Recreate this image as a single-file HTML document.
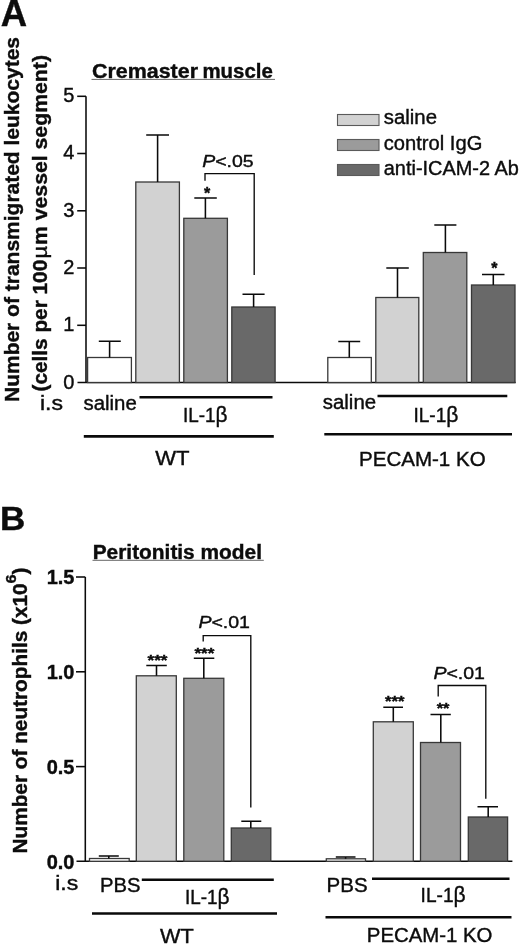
<!DOCTYPE html>
<html><head><meta charset="utf-8">
<style>
html,body{margin:0;padding:0;background:#fff;}
body{width:520px;height:944px;overflow:hidden;}
svg{display:block;will-change:transform;font-family:"Liberation Sans",sans-serif;}
.t{fill:#0c0c0c;stroke:#0c0c0c;stroke-width:0.4;}
.b{font-weight:bold;stroke-width:0.4;}
.ln{stroke:#0a0a0a;stroke-width:1.55;fill:none;}
.thick{stroke:#0a0a0a;stroke-width:2.6;fill:none;}
.bar{stroke:#383838;stroke-width:1.3;}
</style></head>
<body>
<svg width="520" height="944" viewBox="0 0 520 944">
<rect width="520" height="944" fill="#fff"/>

<!-- ===== PANEL A ===== -->
<text class="t b" x="0.8" y="25.5" font-size="36.5">A</text>
<text class="t b" font-size="21" transform="translate(18.8,402) rotate(-90)" textLength="365" lengthAdjust="spacingAndGlyphs">Number of transmigrated leukocytes</text>
<text class="t b" font-size="21" transform="translate(47.3,391.5) rotate(-90)" textLength="131.7" lengthAdjust="spacingAndGlyphs">(cells per 100</text>
<text class="t" font-size="21" transform="translate(47.3,258.6) rotate(-90)" textLength="12.6" lengthAdjust="spacingAndGlyphs">µ</text>
<text class="t b" font-size="21" transform="translate(47.3,245.1) rotate(-90)" textLength="190.1" lengthAdjust="spacingAndGlyphs">m vessel segment)</text>
<text class="t b" x="92" y="78" font-size="21" textLength="106" lengthAdjust="spacingAndGlyphs">Cremaster</text>
<text class="t b" x="202.4" y="78" font-size="21" textLength="70.4" lengthAdjust="spacingAndGlyphs">muscle</text>
<line x1="91.5" y1="79.4" x2="275" y2="79.4" stroke="#666" stroke-width="1"/>

<!-- axis -->
<line class="ln" x1="86" y1="96.2" x2="86" y2="383"/>
<line class="ln" x1="77.5" y1="382.5" x2="515.6" y2="382.5"/>
<g class="ln">
<line x1="77.2" y1="96.3" x2="86" y2="96.3"/>
<line x1="77.2" y1="153.5" x2="86" y2="153.5"/>
<line x1="77.2" y1="210.8" x2="86" y2="210.8"/>
<line x1="77.2" y1="268" x2="86" y2="268"/>
<line x1="77.2" y1="325.3" x2="86" y2="325.3"/>
</g>
<g class="t" font-size="20" text-anchor="end">
<text x="74.3" y="102.0">5</text>
<text x="74.3" y="159.3">4</text>
<text x="74.3" y="216.6">3</text>
<text x="74.3" y="273.9">2</text>
<text x="74.3" y="331.2">1</text>
<text x="74.3" y="388.7">0</text>
</g>

<!-- bars left -->
<g class="bar">
<rect x="87.6" y="357.5" width="43.8" height="25" fill="#fff"/>
<rect x="135.8" y="182" width="43.6" height="200.5" fill="#d2d2d2"/>
<rect x="183.8" y="218.3" width="43.6" height="164.2" fill="#9b9b9b"/>
<rect x="231.8" y="307" width="43.3" height="75.5" fill="#696969"/>
<rect x="327.8" y="357.5" width="43.5" height="25" fill="#fff"/>
<rect x="375.8" y="297.5" width="43" height="85" fill="#d2d2d2"/>
<rect x="423.3" y="252.5" width="43.5" height="130" fill="#9b9b9b"/>
<rect x="471.5" y="285" width="43.5" height="97.5" fill="#696969"/>
</g>
<!-- error bars -->
<g class="ln">
<path d="M109.6 357.5V341.3M98.8 341.3H120.8"/>
<path d="M157.6 182V135M146.2 135H169"/>
<path d="M205.4 218.3V198M194.3 198H216.8"/>
<path d="M253.6 307V294.3M242.5 294.3H264.6"/>
<path d="M349.3 357.5V341.5M338.3 341.5H360.2"/>
<path d="M397.5 297.5V268M386.3 268H408.8"/>
<path d="M445.4 252.5V225M434.3 225H456.4"/>
<path d="M493.3 285V274.5M482 274.5H504.5"/>
<path d="M205 180.7V173.6H254.2V275" stroke-width="1.35"/>
</g>
<text class="t" x="202.2" y="166.8" font-size="17.3" textLength="51.5" lengthAdjust="spacingAndGlyphs"><tspan font-style="italic">P</tspan>&lt;.05</text>
<text class="t b" x="207.2" y="198.8" font-size="16" text-anchor="middle">*</text>
<text class="t b" x="494.3" y="274.2" font-size="16" text-anchor="middle">*</text>

<!-- legend -->
<g style="stroke:#5a5a5a;stroke-width:1.1">
<rect x="337.5" y="114.5" width="41.5" height="11" fill="#d2d2d2"/>
<rect x="337.5" y="139.5" width="41.5" height="11" fill="#9b9b9b"/>
<rect x="337.5" y="164.5" width="41.5" height="11" fill="#696969"/>
</g>
<g class="t" font-size="20">
<text x="383.8" y="124" textLength="53.2" lengthAdjust="spacingAndGlyphs">saline</text>
<text x="383.8" y="150" textLength="98.5" lengthAdjust="spacingAndGlyphs">control IgG</text>
<text x="383.8" y="174.7" textLength="135" lengthAdjust="spacingAndGlyphs">anti-ICAM-2 Ab</text>
</g>

<!-- x labels A -->
<g class="t" font-size="20">
<text x="39.9" y="410.3" textLength="23" lengthAdjust="spacingAndGlyphs">i.s</text>
<text x="83.5" y="409.7" textLength="53.3" lengthAdjust="spacingAndGlyphs">saline</text>
<text x="183" y="422.3" textLength="44.5" lengthAdjust="spacingAndGlyphs">IL-1<tspan font-size="22">β</tspan></text>
<text x="155.3" y="465" textLength="34.3" lengthAdjust="spacingAndGlyphs">WT</text>
<text x="322.8" y="408.8" textLength="53.3" lengthAdjust="spacingAndGlyphs">saline</text>
<text x="413.4" y="422.2" textLength="45" lengthAdjust="spacingAndGlyphs">IL-1<tspan font-size="22">β</tspan></text>
<text x="359" y="465.5" textLength="126.6" lengthAdjust="spacingAndGlyphs">PECAM-1 KO</text>
</g>
<g class="thick">
<line x1="139.5" y1="397.2" x2="272.5" y2="397.2"/>
<line x1="83.8" y1="436.4" x2="273.8" y2="436.4"/>
<line x1="377.5" y1="396" x2="507.3" y2="396"/>
<line x1="324.3" y1="434.2" x2="512" y2="434.2"/>
</g>

<!-- ===== PANEL B ===== -->
<text class="t b" x="0" y="530" font-size="33" textLength="25.3" lengthAdjust="spacingAndGlyphs">B</text>
<text class="t b" font-size="20" transform="translate(26.9,853.5) rotate(-90)" textLength="286" lengthAdjust="spacingAndGlyphs">Number of neutrophils (x10<tspan font-size="15.5" dy="-11.2">6</tspan><tspan dy="11.2">)</tspan></text>
<text class="t b" x="92.7" y="558.6" font-size="20" textLength="169.3" lengthAdjust="spacingAndGlyphs">Peritonitis model</text>
<line x1="92.5" y1="560.3" x2="263.8" y2="560.3" stroke="#666" stroke-width="1"/>

<line class="ln" x1="85.3" y1="577" x2="85.3" y2="862"/>
<line class="ln" x1="76.5" y1="861.3" x2="512.4" y2="861.3"/>
<g class="ln">
<line x1="76" y1="577" x2="85.3" y2="577"/>
<line x1="76" y1="671.8" x2="85.3" y2="671.8"/>
<line x1="76" y1="766.6" x2="85.3" y2="766.6"/>
</g>
<g class="t b" font-size="20.6" text-anchor="end">
<text x="74.5" y="584.2" textLength="27.8" lengthAdjust="spacingAndGlyphs">1.5</text>
<text x="74.5" y="679" textLength="27.8" lengthAdjust="spacingAndGlyphs">1.0</text>
<text x="74.5" y="773.8" textLength="27.8" lengthAdjust="spacingAndGlyphs">0.5</text>
<text x="74.5" y="868.5" textLength="27.8" lengthAdjust="spacingAndGlyphs">0.0</text>
</g>

<g class="bar">
<rect x="89.5" y="858.5" width="39.7" height="2.8" fill="#fff"/>
<rect x="136.3" y="675.8" width="40" height="185.5" fill="#d2d2d2"/>
<rect x="183.8" y="678.3" width="40" height="183" fill="#9b9b9b"/>
<rect x="231.3" y="828" width="39.5" height="33.3" fill="#696969"/>
<rect x="326.3" y="858.8" width="39.2" height="2.5" fill="#fff"/>
<rect x="373.3" y="721.8" width="40" height="139.5" fill="#d2d2d2"/>
<rect x="420.5" y="742.5" width="40" height="118.8" fill="#9b9b9b"/>
<rect x="468.3" y="817" width="39.3" height="44.3" fill="#696969"/>
</g>
<g class="ln">
<path d="M108.8 858.5V856M98.8 856H118.8"/>
<path d="M156.5 675.8V665.5M146.3 665.5H166.8"/>
<path d="M203.8 678.3V658.3M193.8 658.3H214.3"/>
<path d="M250.8 828V821.3M241.3 821.3H261.3"/>
<path d="M345.6 858.8V857M335.8 857H355.5"/>
<path d="M393.3 721.8V707.3M383.3 707.3H403"/>
<path d="M440.8 742.5V714.5M430.5 714.5H450.8"/>
<path d="M488.2 817V806.8M477.5 806.8H498"/>
<path d="M203.2 641.6V635.6H250.8V807.5" stroke-width="1.35"/>
<path d="M438.2 696.4V685.5H485.8V798.8" stroke-width="1.35"/>
</g>
<g class="t b" font-size="15.5" text-anchor="middle" stroke-width="0">
<text x="157.5" y="664.5" textLength="20" lengthAdjust="spacingAndGlyphs">***</text>
<text x="204.4" y="658" textLength="20" lengthAdjust="spacingAndGlyphs">***</text>
<text x="394.7" y="706.3" textLength="19.5" lengthAdjust="spacingAndGlyphs">***</text>
<text x="443.1" y="713.3" textLength="12.8" lengthAdjust="spacingAndGlyphs">**</text>
</g>
<text class="t" x="198.4" y="628.3" font-size="17.3" textLength="51.6" lengthAdjust="spacingAndGlyphs"><tspan font-style="italic">P</tspan>&lt;.01</text>
<text class="t" x="433.4" y="678.5" font-size="17.3" textLength="51.6" lengthAdjust="spacingAndGlyphs"><tspan font-style="italic">P</tspan>&lt;.01</text>

<g class="t" font-size="20">
<text x="55.2" y="890.2" textLength="23" lengthAdjust="spacingAndGlyphs">i.s</text>
<text x="100" y="891.6" textLength="40.5" lengthAdjust="spacingAndGlyphs">PBS</text>
<text x="185" y="903.5" textLength="44.5" lengthAdjust="spacingAndGlyphs">IL-1<tspan font-size="22">β</tspan></text>
<text x="160" y="943" textLength="33.8" lengthAdjust="spacingAndGlyphs">WT</text>
<text x="326.6" y="891.8" textLength="41" lengthAdjust="spacingAndGlyphs">PBS</text>
<text x="420.6" y="902" textLength="45" lengthAdjust="spacingAndGlyphs">IL-1<tspan font-size="22">β</tspan></text>
<text x="366.8" y="941.6" textLength="125.6" lengthAdjust="spacingAndGlyphs">PECAM-1 KO</text>
</g>
<g class="thick">
<line x1="141.8" y1="879.8" x2="273.8" y2="879.8"/>
<line x1="92" y1="913.5" x2="277" y2="913.5"/>
<line x1="372" y1="878.8" x2="509.5" y2="878.8"/>
<line x1="325.5" y1="917.2" x2="511.5" y2="917.2"/>
</g>
</svg>
</body></html>
